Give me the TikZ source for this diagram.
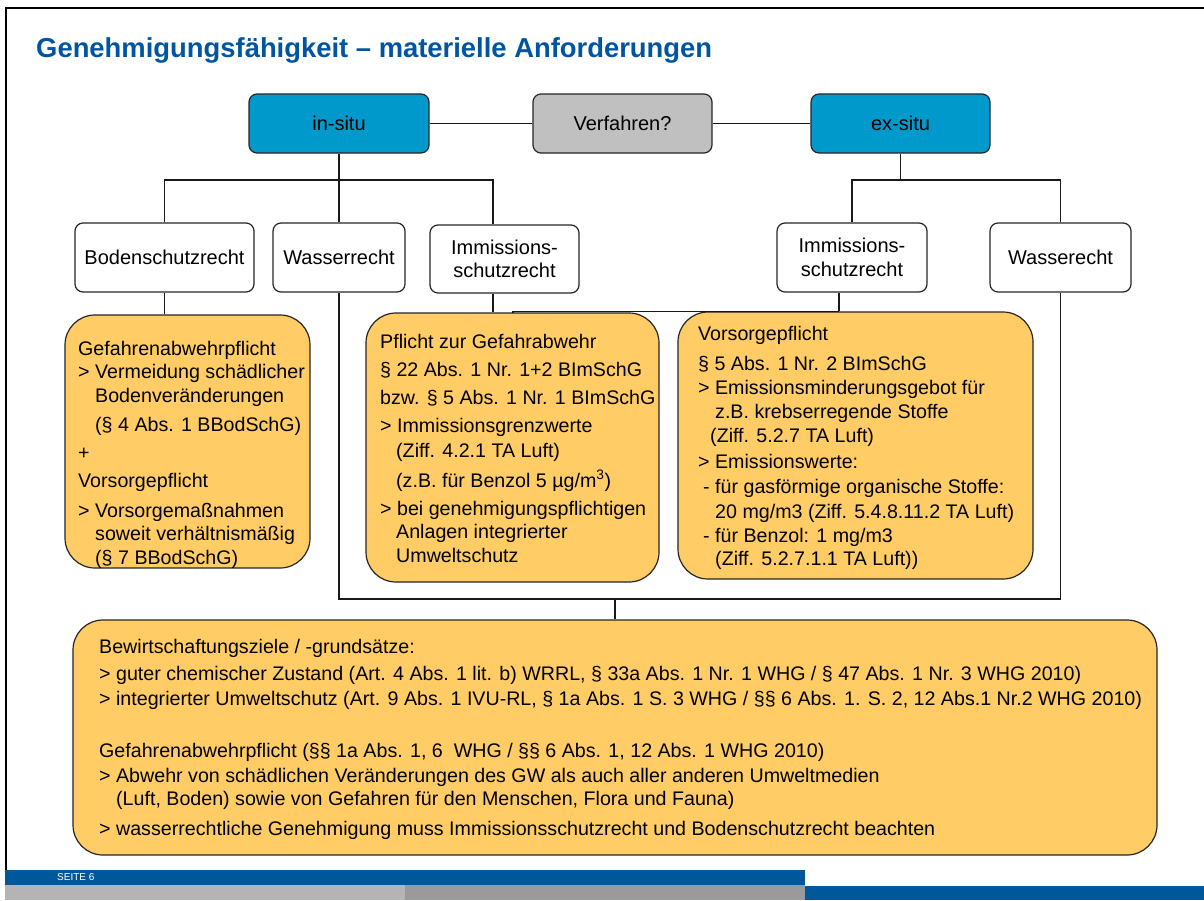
\documentclass[tikz,border=0pt]{standalone}
\usepackage{fontspec}
\setmainfont{Liberation Sans}
\usetikzlibrary{calc}
\definecolor{ablue}{RGB}{0,153,204}
\definecolor{agray}{RGB}{192,192,192}
\definecolor{aorange}{RGB}{255,204,102}
\definecolor{tblue}{RGB}{0,85,160}
\definecolor{fblue}{RGB}{0,88,155}
\definecolor{fgrayA}{RGB}{180,180,180}
\definecolor{fgrayB}{RGB}{154,154,154}
\begin{document}
\begin{tikzpicture}[x=1pt,y=-1pt,
  topbox/.style={draw=black!85, line width=1.2pt, rounded corners=8pt, fill=ablue, inner sep=0pt, font=\fontsize{20}{24}\selectfont},
  lawbox/.style={draw=black!85, line width=1.2pt, rounded corners=8pt, fill=white, inner sep=0pt, align=center, font=\fontsize{20}{23.5}\selectfont},
  obox/.style={draw=black!85, line width=1.2pt, rounded corners=30pt, fill=aorange, inner sep=0pt},
  otext/.style={inner sep=0pt, anchor=north west, align=left, font=\fontsize{19.65}{23.5}\selectfont},
  conn/.style={draw=black!90, line width=1.3pt},
]
\useasboundingbox (0,0) rectangle (1204,900);
\fill[white] (0,0) rectangle (1204,900);
% frame
\draw[line width=2pt] (6,870) -- (6,8) -- (1204,8);
% title
\node[anchor=base west, inner sep=0pt, text=tblue, font=\bfseries\fontsize{27.4}{31}\selectfont] (title) at (36,57) {Genehmigungsfähigkeit – materielle Anforderungen};
% top row
\node[topbox, minimum width=180pt, minimum height=59pt] (insitu) at (339,123.5) {in-situ};
\node[topbox, fill=agray, minimum width=179pt, minimum height=59pt] (verf) at (622.5,123.5) {Verfahren?};
\node[topbox, minimum width=179pt, minimum height=59pt] (exsitu) at (900.5,123.5) {ex-situ};
% second row
\node[lawbox, minimum width=179pt, minimum height=69pt] (boden) at (164.5,257.5) {Bodenschutzrecht};
\node[lawbox, minimum width=132pt, minimum height=69pt] (wasser) at (339,257.5) {Wasserrecht};
\node[lawbox, minimum width=149pt, minimum height=68pt] (immA) at (504.5,259) {Immissions-\\schutzrecht};
\node[lawbox, minimum width=150pt, minimum height=69pt] (immB) at (852,257.5) {Immissions-\\schutzrecht};
\node[lawbox, minimum width=141pt, minimum height=69pt] (wasserB) at (1060.5,257.5) {Wasserecht};
% orange boxes
\node[obox, minimum width=245pt, minimum height=253pt] (bodenO) at (187.5,441.5) {};
\node[obox, minimum width=293pt, minimum height=269pt] (pflicht) at (512.5,447.5) {};
\node[obox, minimum width=355pt, minimum height=267pt] (vorsorge) at (855.5,445.5) {};
\node[obox, minimum width=1084pt, minimum height=235pt] (bottom) at (615,737.5) {};
% texts
\node[otext] (bodenT) at (78,340.8) {Gefahrenabwehrpflicht\\
> Vermeidung schädlicher\\
\hspace*{17pt}Bodenveränderungen\\[5.5pt]
\hspace*{17pt}(§ 4 Abs. 1 BBodSchG)\\[4.5pt]
+\\[4.5pt]
Vorsorgepflicht\\[6.5pt]
> Vorsorgemaßnahmen\\
\hspace*{17pt}soweit verhältnismäßig\\
\hspace*{17pt}(§ 7 BBodSchG)};
\node[otext] (pflichtT) at (380,333.8) {Pflicht zur Gefahrabwehr\\[4.5pt]
§ 22 Abs. 1 Nr. 1+2 BImSchG\\[4.5pt]
bzw. § 5 Abs. 1 Nr. 1 BImSchG\\[4.5pt]
> Immissionsgrenzwerte\\[1.5pt]
\hspace*{16pt}(Ziff. 4.2.1 TA Luft)\\[6.5pt]
\hspace*{16pt}(z.B. für Benzol 5 µg/m\textsuperscript{3})\\[4.5pt]
> bei genehmigungspflichtigen\\
\hspace*{16pt}Anlagen integrierter\\
\hspace*{16pt}Umweltschutz};
\node[otext] (vorsorgeT) at (698,325.8) {Vorsorgepflicht\\[6.5pt]
§ 5 Abs. 1 Nr. 2 BImSchG\\[0.5pt]
> Emissionsminderungsgebot für\\[0.5pt]
\hspace*{17pt}z.B. krebserregende Stoffe\\[0.5pt]
\hspace*{12pt}(Ziff. 5.2.7 TA Luft)\\[2.5pt]
> Emissionswerte:\\[1.5pt]
\hspace*{5pt}- für gasförmige organische Stoffe:\\[1.5pt]
\hspace*{17pt}20 mg/m3 (Ziff. 5.4.8.11.2 TA Luft)\\[0.5pt]
\hspace*{5pt}- für Benzol: 1 mg/m3\\
\hspace*{17pt}(Ziff. 5.2.7.1.1 TA Luft))};
\node[otext] (bottomT) at (99,638.8) {Bewirtschaftungsziele / -grundsätze:\\[3.5pt]
> guter chemischer Zustand (Art. 4 Abs. 1 lit. b) WRRL, § 33a Abs. 1 Nr. 1 WHG / § 47 Abs. 1 Nr. 3 WHG 2010)\\[1.5pt]
> integrierter Umweltschutz (Art. 9 Abs. 1 IVU-RL, § 1a Abs. 1 S. 3 WHG / §§ 6 Abs. 1. S. 2, 12 Abs.1 Nr.2 WHG 2010)\\[28.5pt]
Gefahrenabwehrpflicht (§§ 1a Abs. 1, 6\ \ WHG / §§ 6 Abs. 1, 12 Abs. 1 WHG 2010)\\[1.5pt]
> Abwehr von schädlichen Veränderungen des GW als auch aller anderen Umweltmedien\\
\hspace*{17pt}(Luft, Boden) sowie von Gefahren für den Menschen, Flora und Fauna)\\[6.5pt]
> wasserrechtliche Genehmigung muss Immissionsschutzrecht und Bodenschutzrecht beachten};
% connectors top
\draw[conn] (insitu) -- (verf);
\draw[conn] (verf) -- (exsitu);
\coordinate (busA) at (339,180);
\coordinate (immAtop) at ($(immA.north)+(-11.5,0)$);
\draw[conn] (insitu.south) -- (busA);
\draw[conn] (boden.north) |- (busA) -| (immAtop);
\draw[conn] (busA) -- (wasser.north);
\coordinate (busB) at (900.5,180);
\draw[conn] (exsitu.south) -- (busB);
\draw[conn] (immB.north) |- (busB) -| (wasserB.north);
% connectors down
\draw[conn] (boden.south) -- (boden.south |- bodenO.north);
\coordinate (immAbot) at ($(immA.south)+(-11.5,0)$);
\draw[conn] (immAbot) -- (immAbot |- pflicht.north);
\coordinate (immBbot) at ($(immB.south)+(-13,0)$);
\draw[conn] (immBbot) -- (immBbot |- vorsorge.north);
\coordinate (immBbr) at ($(immBbot)+(0,19)$);
\draw[conn] (immBbr) -| ($(pflicht.north)+(0.5,0)$);
\coordinate (wbus) at (615,599);
\draw[conn] (wasser.south) |- (wbus) -| (wasserB.south);
\draw[conn] (wbus) -- (bottom.north);
% footer
\fill[fblue] (5,870) rectangle (805,885);
\fill[fgrayA] (5,885) rectangle (405,900);
\fill[fgrayB] (405,885) rectangle (805,900);
\fill[fblue] (805,886) rectangle (1204,900);
\node[anchor=west, inner sep=0pt, text=white, font=\fontsize{10}{11}\selectfont] (seite) at (57,877.5) {SEITE 6};
\end{tikzpicture}
\end{document}
